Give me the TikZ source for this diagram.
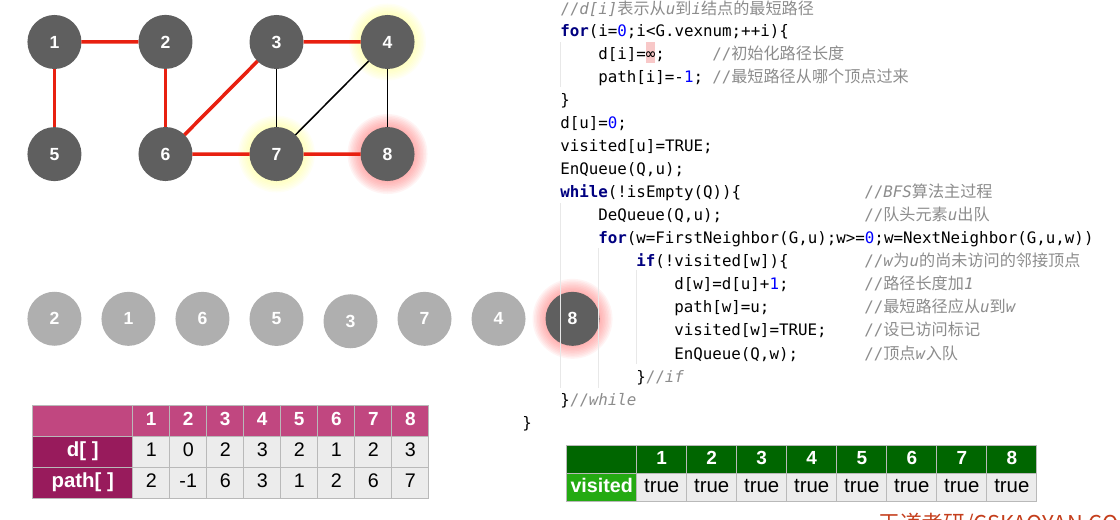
\documentclass[tikz,border=0pt]{standalone}
\usepackage{fontspec}
\setmainfont{Liberation Sans}
\setmonofont{DejaVu Sans Mono}
\newfontfamily\zhfont[Scale=1.02]{Noto Sans CJK SC}
\newfontfamily\wmfont{Noto Sans CJK SC}
\usepackage{xcolor}
\usetikzlibrary{matrix,backgrounds}

\definecolor{vdark}{RGB}{95,95,95}
\definecolor{vlight}{RGB}{175,175,175}
\definecolor{edgered}{RGB}{232,32,16}
\definecolor{glowyel}{RGB}{255,255,120}
\definecolor{glowred}{RGB}{255,110,110}
\definecolor{hdrpink}{RGB}{193,71,128}
\definecolor{lblpink}{RGB}{152,27,92}
\definecolor{cellgray}{RGB}{236,236,236}
\definecolor{cellline}{RGB}{185,185,185}
\definecolor{hdrgreen}{RGB}{0,102,0}
\definecolor{lblgreen}{RGB}{36,170,18}
\definecolor{kwdcol}{RGB}{0,0,128}
\definecolor{numcol}{RGB}{0,0,255}
\definecolor{cmtcol}{RGB}{140,140,140}
\definecolor{infbg}{RGB}{248,200,200}
\definecolor{guidecol}{RGB}{232,232,232}
\definecolor{wmcol}{RGB}{196,62,28}

\newcommand\kwd[1]{\textcolor{kwdcol}{\bfseries #1}}
\newcommand\numb[1]{\textcolor{numcol}{#1}}
\newcommand\cmt[1]{\textcolor{cmtcol}{#1}}
\newcommand\zh[1]{{\zhfont #1}}

\begin{document}
\begin{tikzpicture}[x=0.025cm, y=-0.025cm,
  vertex/.style={circle, fill=vdark, text=white, minimum size=1.35cm, inner sep=0pt, outer sep=0pt,
    font=\bfseries\fontsize{12.5}{15}\selectfont},
  qvertex/.style={vertex, fill=vlight},
  redge/.style={draw=edgered, line width=2.5pt},
  bedge/.style={draw=black, line width=1.1pt},
  cell/.style={draw=cellline, line width=0.6pt, fill=cellgray, inner sep=0pt, outer sep=0pt,
    anchor=center, text height=1.6ex, text depth=0.4ex, font=\fontsize{14}{17}\selectfont},
  hdr/.style={fill=hdrpink, text=white, font=\bfseries\fontsize{13.5}{16}\selectfont},
  lbl/.style={fill=lblpink, text=white, font=\bfseries\fontsize{14.5}{17}\selectfont},
  vhdr/.style={fill=hdrgreen, text=white, font=\bfseries\fontsize{13.5}{16}\selectfont},
  vlbl/.style={fill=lblgreen, text=white, font=\bfseries\fontsize{14}{17}\selectfont},
  code/.style={anchor=base west, inner sep=0pt, font=\ttfamily\fontsize{11.25}{13}\selectfont}]
\useasboundingbox (0,0) rectangle (1120,520);

% graph
\matrix (g) [matrix of nodes, nodes={vertex}, column sep=1.425cm, row sep=1.45cm] at (221,98)
{
  1 & 2 & 3 & 4 \\
  5 & 6 & 7 & 8 \\};
\path[redge]
  (g-1-1) edge (g-1-2)
          edge (g-2-1)
  (g-1-2) edge (g-2-2)
  (g-1-3) edge (g-2-2)
          edge (g-1-4)
  (g-2-2) edge (g-2-3)
  (g-2-3) edge (g-2-4);
\path[bedge]
  (g-1-3) edge (g-2-3)
  (g-1-4) edge (g-2-3)
          edge (g-2-4);

% queue
\matrix (q) [matrix of nodes, nodes={qvertex}, column sep=0.5cm] at (313.5,320)
{
  2 & 1 & 6 & 5 & |[yshift=-0.06cm]| 3 & 7 & 4 & |[fill=vdark]| 8 \\};

% glow
\begin{scope}[on background layer]
  \foreach \n/\c in {g-1-4/glowyel, g-2-3/glowyel}
    \foreach \r in {28,29.5,...,39}
      \fill[\c, opacity=0.07] (\n) circle[radius=\r];
  \foreach \n in {g-2-4, q-1-8}
    \foreach \r in {28,29.5,...,40}
      \fill[glowred, opacity=0.08] (\n) circle[radius=\r];
\end{scope}

% d[] and path[]
\matrix (dp) [matrix of nodes, anchor=north west, inner sep=0pt, column sep=-0.6pt, row sep=-0.6pt,
  nodes={cell, minimum width=0.925cm, minimum height=0.775cm},
  column 1/.style={nodes={lbl, minimum width=2.5cm}},
  row 1/.style={nodes={hdr}}] at (32,405)
{
  \mbox{} & 1 & 2 & 3 & 4 & 5 & 6 & 7 & 8 \\
  d[ ] & 1 & 0 & 2 & 3 & 2 & 1 & 2 & 3 \\
  path[ ] & 2 & -1 & 6 & 3 & 1 & 2 & 6 & 7 \\};

% visited
\matrix (vis) [matrix of nodes, anchor=north west, inner sep=0pt, column sep=-0.6pt, row sep=-0.6pt,
  nodes={cell, minimum width=1.25cm, minimum height=0.7cm, font=\fontsize{14.5}{17}\selectfont},
  column 1/.style={nodes={vlbl, minimum width=1.75cm}},
  row 1/.style={nodes={vhdr}}] at (566,445)
{
  \mbox{} & 1 & 2 & 3 & 4 & 5 & 6 & 7 & 8 \\
  visited & true & true & true & true & true & true & true & true \\};

% code
\fill[infbg] (645.8,42) rectangle (655.3,63);
\draw[guidecol, line width=0.6pt] (560,42) -- (560,87);
\draw[guidecol, line width=0.6pt] (560,203) -- (560,388);
\draw[guidecol, line width=0.6pt] (598,248) -- (598,388);
\draw[guidecol, line width=0.6pt] (636,270) -- (636,364);

\node[code] (l0) at (560,14) {\cmt{//\textit{d[i]}\zh{表示从}\textit{u}\zh{到}\textit{i}\zh{结点的最短路径}}};
\node[code] (l1) at (560,36) {\kwd{for}(i=\numb{0};i<G.vexnum;++i)\{};
\node[code] (l2) at (598,59) {d[i]=∞;};
\node[code] (k2) at (712,59) {\cmt{//\zh{初始化路径长度}}};
\node[code] (l3) at (598,82) {path[i]=-\numb{1};};
\node[code] (k3) at (712,82) {\cmt{//\zh{最短路径从哪个顶点过来}}};
\node[code] (l4) at (560,105) {\}};
\node[code] (l5) at (560,128) {d[u]=\numb{0};};
\node[code] (l6) at (560,151) {visited[u]=TRUE;};
\node[code] (l7) at (560,174) {EnQueue(Q,u);};
\node[code] (l8) at (560,197) {\kwd{while}(!isEmpty(Q))\{};
\node[code] (k8) at (864,197) {\cmt{//\textit{BFS}\zh{算法主过程}}};
\node[code] (l9) at (598,220) {DeQueue(Q,u);};
\node[code] (k9) at (864,220) {\cmt{//\zh{队头元素}\textit{u}\zh{出队}}};
\node[code] (l10) at (598,243.5) {\kwd{for}(w=FirstNeighbor(G,u);w>=\numb{0};w=NextNeighbor(G,u,w))};
\node[code] (l11) at (636,266.5) {\kwd{if}(!visited[w])\{};
\node[code] (k11) at (864,266.5) {\cmt{//\textit{w}\zh{为}\textit{u}\zh{的尚未访问的邻接顶点}}};
\node[code] (l12) at (674,289.5) {d[w]=d[u]+\numb{1};};
\node[code] (k12) at (864,289.5) {\cmt{//\zh{路径长度加}\textit{1}}};
\node[code] (l13) at (674,312.5) {path[w]=u;};
\node[code] (k13) at (864,312.5) {\cmt{//\zh{最短路径应从}\textit{u}\zh{到}\textit{w}}};
\node[code] (l14) at (674,335.5) {visited[w]=TRUE;};
\node[code] (k14) at (864,335.5) {\cmt{//\zh{设已访问标记}}};
\node[code] (l15) at (674,359) {EnQueue(Q,w);};
\node[code] (k15) at (864,359) {\cmt{//\zh{顶点}\textit{w}\zh{入队}}};
\node[code] (l16) at (636,382) {\}\cmt{//\textit{if}}};
\node[code] (l17) at (560,405) {\}\cmt{//\textit{while}}};
\node[code] (l18) at (522,428) {\}};

\node[anchor=north west, inner sep=0pt, text=wmcol, font=\wmfont\fontsize{15.5}{19}\selectfont] (wm) at (878,513) {王道考研/CSKAOYAN.COM};
\end{tikzpicture}
\end{document}
